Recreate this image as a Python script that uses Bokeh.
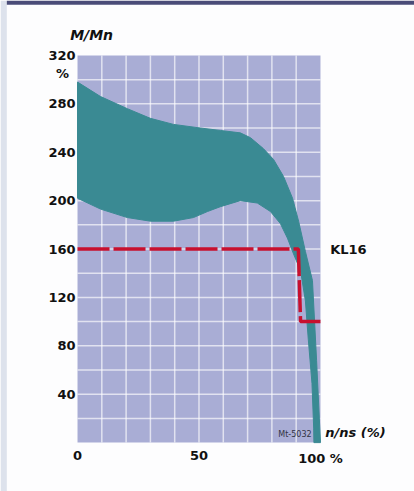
from bokeh.plotting import figure
from bokeh.core.properties import value
from bokeh.embed import file_html
from bokeh.resources import INLINE

# ---- data (percent of synchronous speed / percent of rated torque) ----
upper_x = [0, 9.5, 20.5, 30, 39.5, 50.6, 58.8, 67, 71.2, 76.5, 80.7, 84.8, 88.5, 91, 93.8, 96.7, 98.4, 100]
upper_y = [298, 286, 276, 268, 263, 260, 258, 256, 252, 243, 234, 220, 202, 183, 158, 134, 68, 0]
lower_x = [0, 9.5, 20.5, 30, 39.5, 47.7, 53.5, 58.8, 67, 74, 79.4, 83.5, 86.4, 88.9, 91.8, 93.8, 95.0, 96.5, 97.2, 97.3]
lower_y = [202, 193, 186, 183, 183, 186, 191, 195, 200, 198, 191, 181, 169, 156, 142, 117, 85, 49, 12, 0]
kl16_x = [0, 90.9, 91.8, 100]
kl16_y = [160, 160, 100, 100]
y_ticks = [40, 80, 120, 160, 200, 240, 280, 320]
y_tick_labels = ["40", "80", "120", "160", "200", "240", "280", "320"]
x_ticks = [0, 50, 100]
x_tick_labels = ["0", "50", "100 %"]
x_grid = [10, 20, 30, 40, 50, 60, 70, 80, 90]
y_grid = [20, 40, 60, 80, 100, 120, 140, 160, 180, 200, 220, 240, 260, 280, 300]

FONT = "DejaVu Sans"
X_MIN, X_MAX, Y_MIN, Y_MAX = 0, 100, 0, 320
XR = (-31.7, 138.7)
YR = (-40.4, 365.4)

p = figure(width=414, height=491, x_range=XR, y_range=YR,
           output_backend="svg", toolbar_location=None,
           min_border=0, min_border_left=0, min_border_right=0,
           min_border_top=0, min_border_bottom=0)
p.axis.visible = False
p.grid.visible = False
p.outline_line_color = None
p.background_fill_color = "#fdfdfe"
p.border_fill_color = "#ffffff"

# page decoration: left strip and top header bar
p.quad(left=[XR[0]], right=[XR[0] + 2.6], bottom=[YR[0]], top=[YR[1]],
       fill_color="#dde2ec", line_color=None)
p.quad(left=[XR[0] + 2.6], right=[XR[1]], bottom=[YR[1] - 3.6], top=[YR[1]],
       fill_color="#4a4c78", line_color=None)

# plot area
p.quad(left=[X_MIN], right=[X_MAX], bottom=[Y_MIN], top=[Y_MAX],
       fill_color="#a9add5", line_color=None)
# grid
p.segment(x0=x_grid, x1=x_grid, y0=[Y_MIN] * len(x_grid), y1=[Y_MAX] * len(x_grid),
          line_color="white", line_alpha=0.65, line_width=1.5)
p.segment(x0=[X_MIN] * len(y_grid), x1=[X_MAX] * len(y_grid), y0=y_grid, y1=y_grid,
          line_color="white", line_alpha=0.65, line_width=1.5)

# torque band
band_x = upper_x + lower_x[::-1]
band_y = upper_y + lower_y[::-1]
p.patch(band_x, band_y, fill_color="#3a8a93", line_color="#3a8a93", line_width=1)

# KL16 characteristic
p.line(kl16_x, kl16_y, line_color="#c8102e", line_width=3.5, line_dash="32 4")

# tick labels
p.text(x=[X_MIN] * len(y_ticks), y=y_ticks, text=y_tick_labels, x_offset=-2,
       text_align="right", text_baseline="middle", text_font=value(FONT),
       text_font_style="bold", text_font_size="13px", text_color="#111111")
p.text(x=x_ticks, y=[Y_MIN] * len(x_ticks), text=x_tick_labels, y_offset=8,
       text_align="center", text_baseline="top", text_font=value(FONT),
       text_font_style="bold", text_font_size="13px", text_color="#111111")

def lab(x, y, t, align="left", style="bold", size="13px", color="#111111"):
    p.text(x=[x], y=[y], text=[t], text_align=align, text_baseline="middle",
           text_font=value(FONT), text_font_style=style, text_font_size=size,
           text_color=color)

lab(-6.2, 305, "%", align="center")
lab(5.8, 337, "M/Mn", align="center", style="bold italic", size="14px")
lab(104, 160, "KL16")
lab(102, 8.5, "n/ns (%)", style="bold italic")
lab(89.5, 7, "Mt-5032", align="center", style="normal", size="8px", color="#333344")

open("out.html", "w").write(file_html(p, INLINE))
